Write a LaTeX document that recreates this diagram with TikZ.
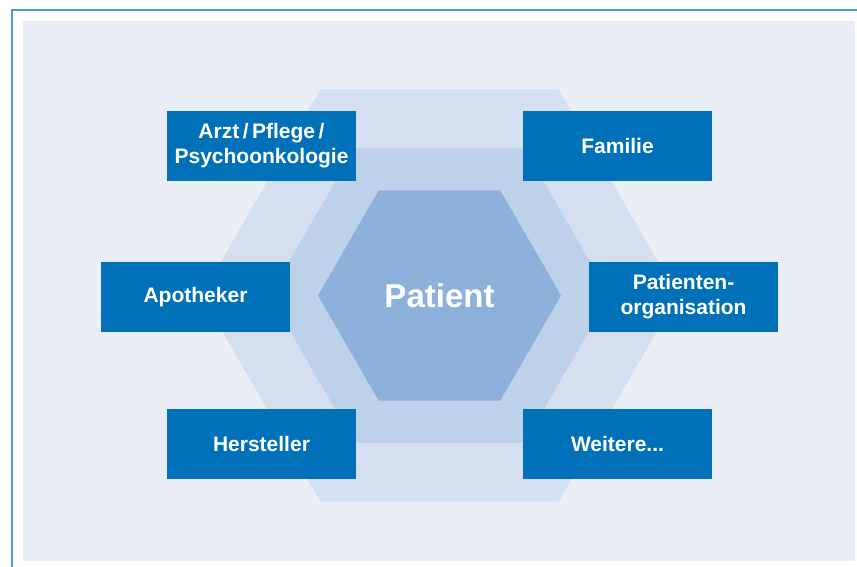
\documentclass[tikz,border=0pt]{standalone}
\usepackage{fontspec}
\setmainfont{Liberation Sans}
\usetikzlibrary{positioning}

\definecolor{rimblue}{RGB}{74,156,212}
\definecolor{paleback}{RGB}{233,238,247}
\definecolor{hexout}{RGB}{212,223,240}
\definecolor{hexmid}{RGB}{189,209,234}
\definecolor{hexin}{RGB}{141,177,218}
\definecolor{boxblue}{RGB}{0,112,184}

\tikzset{
  partner/.style={fill=boxblue, text=white, minimum width=189pt, minimum height=70pt,
    inner sep=0pt, align=center, font=\bfseries\fontsize{21}{25}\selectfont},
  core/.style={text=white, font=\bfseries\fontsize{33}{36}\selectfont}
}

\begin{document}
\begin{tikzpicture}[x=1pt,y=-1pt]
\useasboundingbox (0,0) rectangle (857,567);
\fill[white] (0,0) rectangle (857,567);
\fill[paleback] (23,21) rectangle (855,561);
\draw[rimblue, line width=2pt] (11.75,567) -- (11.75,9.75) -- (857,9.75);
\coordinate (mid) at (439.5,295.5);
% hexagon rings
\fill[hexout] (mid) +(0:238) -- +(60:238) -- +(120:238) -- +(180:238) -- +(240:238) -- +(300:238) -- cycle;
\fill[hexmid] (mid) +(0:170) -- +(60:170) -- +(120:170) -- +(180:170) -- +(240:170) -- +(300:170) -- cycle;
\fill[hexin] (mid) +(0:121.5) -- +(60:121.5) -- +(120:121.5) -- +(180:121.5) -- +(240:121.5) -- +(300:121.5) -- cycle;
\node[core] (patient) at (mid) {Patient};
% partner boxes
\node[partner] (arzt) at (261.5,146) {Arzt\,/\,Pflege\,/\\Psychoonkologie};
\node[partner] (familie) at (617.5,146) {Familie};
\node[partner] (apotheker) at (195.5,297) {Apotheker};
\node[partner] (organisation) at (683.5,297) {Patienten-\\organisation};
\node[partner] (hersteller) at (261.5,444) {Hersteller};
\node[partner] (weitere) at (617.5,444) {Weitere...};
\end{tikzpicture}
\end{document}
